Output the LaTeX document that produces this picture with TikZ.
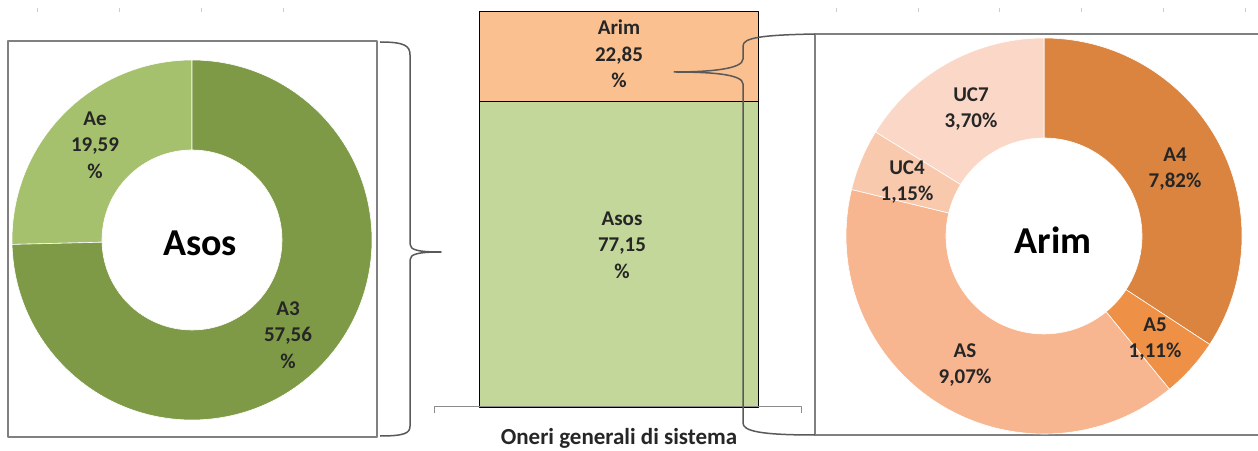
\documentclass[tikz,border=0pt]{standalone}
\usepackage{fontspec}
\setmainfont{Carlito}
\usetikzlibrary{calc}

\definecolor{asosA3}{HTML}{7E9A47}
\definecolor{asosAe}{HTML}{A5C16E}
\definecolor{barAsos}{HTML}{C4D79B}
\definecolor{barArim}{HTML}{FAC090}
\definecolor{arimA4}{HTML}{DA843F}
\definecolor{arimA5}{HTML}{EE9045}
\definecolor{arimAS}{HTML}{F7B68F}
\definecolor{arimUC4}{HTML}{F9C9AE}
\definecolor{arimUC7}{HTML}{FAD7C6}

\tikzset{
  lbl/.style={font=\fontsize{21}{26.5}\selectfont\bfseries, text=black!85, align=center},
  biglbl/.style={font=\fontsize{38}{42}\selectfont\bfseries, text=black},
  frame/.style={draw=black!50, line width=1.5pt},
  bar/.style={draw=black, line width=1pt},
  brace/.style={draw=black!65, line width=1.5pt},
  slice/.style={draw=white, line width=.6pt}
}

\begin{document}
\begin{tikzpicture}[x=1pt, y=1pt, line join=round]

\useasboundingbox (0,0) rectangle (1258,450);

%\draw[step=50, color=gray!30] (0,0) grid (1258,450);

    	\foreach \x in {37,119,201,283,836,918,999,1081,1163,1245}
     		\draw[black!20] (\x,438) -- (\x,442);

% Asos
\draw[frame] (8,13) rectangle (377,409);
\coordinate (asos c) at (192,210);

    	\foreach \a/\b/\col in {90/181.41/asosAe, 181.41/450/asosA3}
     		\filldraw[slice, fill=\col] (asos c) ++(\a:180)
			arc[start angle=\a, end angle=\b, radius=180] -- ++(\b:-90)
			arc[start angle=\b, end angle=\a, radius=90] -- cycle;

\node[lbl] (ae) at (95,305) {Ae\\19,59\\\%};
\node[lbl] (a3) at (288,115) {A3\\57,56\\\%};
\node[biglbl] (asos name) at (200,207) {Asos};

% bar
\draw[bar, fill=barArim] (479,348) rectangle (758,438);
\draw[bar, fill=barAsos] (479,43) rectangle (758,348);

\node[lbl] (bar arim) at (619,396) {Arim\\22,85\\\%};
\node[lbl] (bar asos) at (622,205) {Asos\\77,15\\\%};

\draw[black!45, line width=1pt] (434,37) -- (434,44) -- (801,44) -- (801,37);
\node[lbl, font=\fontsize{23}{26}\selectfont\bfseries] (axis) at (619,12) {Oneri generali di sistema};

% Arim
\draw[frame] (815,15) rectangle (1270,416);
\coordinate (arim c) at (1044,214);

    	\foreach \a/\b/\col in {90/-33.20/arimA4, -33.20/-50.69/arimA5, -50.69/-193.59/arimAS,
			-193.59/-211.71/arimUC4, -211.71/-270/arimUC7}
     		\filldraw[slice, fill=\col] (arim c) ++(\a:198)
			arc[start angle=\a, end angle=\b, radius=198] -- ++(\b:-100)
			arc[start angle=\b, end angle=\a, radius=98] -- cycle;

\node[lbl] (uc7) at (971,341) {UC7\\3,70\%};
\node[lbl] (uc4) at (907,268) {UC4\\1,15\%};
\node[lbl] (a4) at (1175,281) {A4\\7,82\%};
\node[lbl] (a5) at (1155,111) {A5\\1,11\%};
\node[lbl] (as) at (965,85) {AS\\9,07\%};
\node[biglbl] (arim name) at (1053,210) {Arim};

% braces
\coordinate (lb top) at (380,408);
\coordinate (lb bot) at (380,14);
\coordinate (lb tip) at (441,198);
\draw[brace] (lb top) .. controls (405,408) and (410,404) .. (410,395) -- (410,206)
	.. controls (410,200) and (418,198) .. (lb tip)
	.. controls (418,198) and (410,196) .. (410,190) -- (410,24)
	.. controls (410,17) and (405,14) .. (lb bot);

\coordinate (rb top) at (815,416);
\coordinate (rb bot) at (815,15);
\coordinate (rb tip) at (674,378);
\draw[brace] (rb top) .. controls (760,415) and (743,412) .. (743,404) -- (743,391)
	.. controls (743,381) and (710,378) .. (rb tip)
	.. controls (710,378) and (743,376) .. (743,366) -- (743,27)
	.. controls (743,19) and (760,15) .. (rb bot);

\end{tikzpicture}
\end{document}
